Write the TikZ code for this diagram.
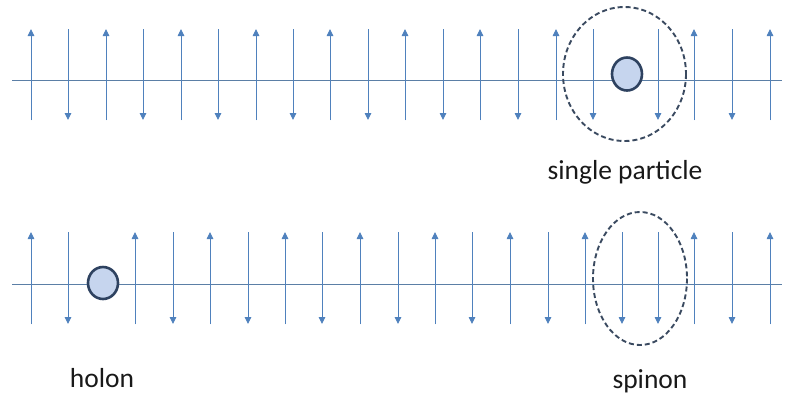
\documentclass[tikz,border=0pt]{standalone}
\usepackage{fontspec}
\setmainfont{Carlito}
\usetikzlibrary{arrows.meta}
\definecolor{spin}{HTML}{4F81BD}
\definecolor{chain}{HTML}{5B7FA6}
\definecolor{dotfill}{HTML}{C6D5EE}
\definecolor{dotedge}{HTML}{2E4260}
\definecolor{ring}{HTML}{3A4A60}
\tikzset{
  spinarrow/.style={draw=spin, line width=0.9pt, -{Triangle[width=6.5pt,length=7pt]}, fill=spin},
  chainline/.style={draw=chain, line width=0.9pt},
  holedot/.style={draw=dotedge, fill=dotfill, line width=2.6pt},
  ringstyle/.style={draw=ring, line width=1.9pt, dash pattern=on 5pt off 3pt},
  lbl/.style={font=\fontsize{27.5}{32}\selectfont, text=black!90, anchor=base, inner sep=0pt}
}
\begin{document}
\begin{tikzpicture}[x=1pt,y=-1pt]
\useasboundingbox (0,0) rectangle (792,397);
% top chain
\coordinate (tl) at (12,80);
\coordinate (tr) at (782,80);
\draw[chainline] (tl) -- (tr);
\foreach \x/\d [count=\i] in {31/u,68/d,106/u,143/d,181/u,218/d,256/u,293/d,330/u,368/d,405/u,443/d,480/u,518/d,556/u,593/d,658/d,694/u,732/d,770/u}{
  \coordinate (ta\i) at (\x,29);
  \coordinate (tb\i) at (\x,120);
  \if u\d \draw[spinarrow] (tb\i) -- (ta\i); \else \draw[spinarrow] (ta\i) -- (tb\i); \fi
}
\draw[ringstyle] (624.5,74) ellipse [x radius=61.5, y radius=67];
\draw[holedot] (627,74) ellipse [x radius=15, y radius=16.5];
\node[lbl] (single) at (625,179) {single particle};
% bottom chain
\coordinate (bl) at (12,284);
\coordinate (br) at (782,284);
\draw[chainline] (bl) -- (br);
\foreach \x/\d [count=\i] in {31/u,68/d,135/u,173/d,210/u,248/d,285/u,322/d,360/u,398/d,435/u,472/d,510/u,548/d,585/u,622/d,658/d,694/u,732/d,770/u}{
  \coordinate (ba\i) at (\x,232);
  \coordinate (bb\i) at (\x,324);
  \if u\d \draw[spinarrow] (bb\i) -- (ba\i); \else \draw[spinarrow] (ba\i) -- (bb\i); \fi
}
\draw[ringstyle] (640,278.5) ellipse [x radius=47, y radius=66.5];
\draw[holedot] (103,283) ellipse [x radius=15, y radius=16];
\node[lbl] (holon) at (102,387) {holon};
\node[lbl] (spinon) at (650,388) {spinon};
\end{tikzpicture}
\end{document}
